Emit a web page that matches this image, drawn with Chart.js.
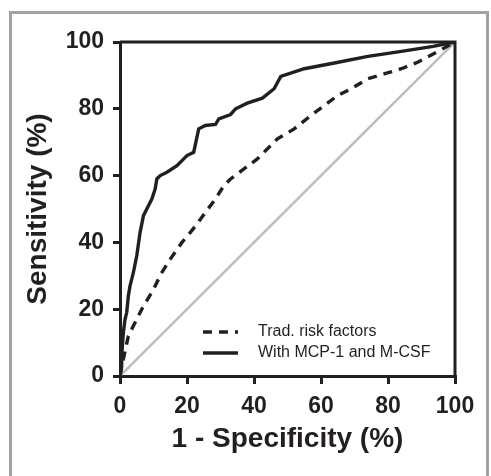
<!DOCTYPE html>
<html lang="en">
<head>
  <meta charset="UTF-8" />
  <title>ROC curves</title>
  <script src="https://cdn.jsdelivr.net/npm/chart.js"></script>
  <style>
    html, body {
      margin: 0;
      padding: 0;
      background: #fff;
      overflow: hidden;
    }
    .wrap {
      position: relative;
      width: 491px;
      height: 476px;
    }
    .frame {
      position: absolute;
      left: 9px;
      top: 11px;
      width: 474px;
      height: 490px;
      border: 3px solid #a3a3a3;
    }
    #roc {
      position: absolute;
      left: 0;
      top: 0;
    }
  </style>
</head>
<body>
  <div class="wrap">
    <div class="frame"></div>
    <canvas id="roc" width="491" height="476"></canvas>
  </div>

  <script>
    const xTicks = [0, 20, 40, 60, 80, 100];
    const yTicks = [0, 20, 40, 60, 80, 100];

    const seriesNames = ["Trad. risk factors", "With MCP-1 and M-CSF"];

    // traditional risk factors model
    const tradFpr = [0, 1, 2.5, 4.5, 6.5, 10, 12.5, 15, 18.5, 21, 23, 25.5, 28.5, 31, 33, 37, 41, 47, 52, 57, 61, 65, 69, 74, 79, 84, 89, 95.5, 100];
    const tradSens = [0, 5, 12, 16, 20, 26, 31, 35, 40, 43, 45.5, 49, 53, 57, 59, 62, 65, 71, 74, 78, 81, 84, 86, 89, 90.5, 92, 94, 97.5, 100];

    // model with MCP-1 and M-CSF
    const mcpFpr = [0, 0.5, 0.5, 1, 1.5, 2, 2.5, 3, 4, 5, 6, 7, 8, 9.5, 10.5, 11, 12, 14, 17, 20, 22, 23.5, 25.5, 28.5, 29.5, 33, 34.5, 38, 42.5, 46, 48, 55, 64, 74, 84, 93.5, 100];
    const mcpSens = [0, 3, 6, 13, 17, 19, 24, 27, 31, 36, 43, 48, 50, 53, 56, 59, 60, 61, 63, 66, 67, 74, 75, 75.3, 77, 78.3, 80, 81.7, 83.2, 86, 89.7, 92, 93.7, 95.7, 97.2, 98.7, 100];

    // reference (chance) line
    const chanceX = [0, 100];
    const chanceY = [0, 100];

    const ink = "#231f20";
    const fontFamily = "'Liberation Sans', Arial, Helvetica, sans-serif";

    function toPoints(xs, ys) {
      return xs.map((x, i) => ({ x: x, y: ys[i] }));
    }

    // top and right edges of the plot box
    const boxPlugin = {
      id: "box",
      afterDraw(chart) {
        const { ctx, chartArea: a } = chart;
        ctx.save();
        ctx.strokeStyle = ink;
        ctx.lineWidth = 3;
        ctx.beginPath();
        ctx.moveTo(a.left, a.top);
        ctx.lineTo(a.right, a.top);
        ctx.lineTo(a.right, a.bottom);
        ctx.stroke();
        ctx.restore();
      }
    };

    // legend inside the plot, lower right
    const innerLegend = {
      id: "innerLegend",
      afterDraw(chart) {
        const { ctx } = chart;
        const rows = [0, 1];
        ctx.save();
        rows.forEach((di, i) => {
          const ds = chart.data.datasets[di];
          const y = 332 + i * 21;
          ctx.strokeStyle = ds.borderColor;
          ctx.lineWidth = ds.borderWidth;
          ctx.setLineDash(ds.borderDash || []);
          ctx.beginPath();
          ctx.moveTo(203, y);
          ctx.lineTo(238, y);
          ctx.stroke();
          ctx.setLineDash([]);
          ctx.fillStyle = ink;
          ctx.font = "16px " + fontFamily;
          ctx.textBaseline = "middle";
          ctx.fillText(ds.label, 258, y);
        });
        ctx.restore();
      }
    };

    new Chart(document.getElementById("roc"), {
      type: "line",
      data: {
        datasets: [
          {
            label: seriesNames[0],
            data: toPoints(tradFpr, tradSens),
            borderColor: ink,
            borderWidth: 3.4,
            borderDash: [9, 7],
            pointRadius: 0,
            tension: 0,
            order: 1
          },
          {
            label: seriesNames[1],
            data: toPoints(mcpFpr, mcpSens),
            borderColor: ink,
            borderWidth: 3.4,
            pointRadius: 0,
            tension: 0,
            order: 0
          },
          {
            label: "chance",
            data: toPoints(chanceX, chanceY),
            borderColor: "#bdbdbd",
            borderWidth: 2.5,
            pointRadius: 0,
            tension: 0,
            order: 2
          }
        ]
      },
      options: {
        responsive: false,
        animation: false,
        layout: { padding: { top: 42, right: 36, left: 0, bottom: 0 } },
        plugins: {
          legend: { display: false },
          tooltip: { enabled: false }
        },
        scales: {
          x: {
            type: "linear",
            min: 0,
            max: 100,
            afterBuildTicks: s => { s.ticks = xTicks.map(v => ({ value: v })); },
            afterFit: s => { s.height = 100; },
            grid: { drawOnChartArea: false, color: ink, lineWidth: 3, tickLength: 8 },
            border: { color: ink, width: 3 },
            ticks: {
              color: ink,
              padding: 9,
              font: { family: fontFamily, size: 23, weight: "bold" }
            },
            title: {
              display: true,
              text: "1 - Specificity (%)",
              color: ink,
              padding: { top: 0, bottom: 20 },
              font: { family: fontFamily, size: 28, weight: "bold" }
            }
          },
          y: {
            type: "linear",
            min: 0,
            max: 100,
            afterBuildTicks: s => { s.ticks = yTicks.map(v => ({ value: v })); },
            afterFit: s => { s.width = 120; },
            grid: { drawOnChartArea: false, color: ink, lineWidth: 3, tickLength: 7 },
            border: { color: ink, width: 3 },
            ticks: {
              color: ink,
              padding: 9,
              font: { family: fontFamily, size: 23, weight: "bold" }
            },
            title: {
              display: true,
              text: "Sensitivity (%)",
              color: ink,
              padding: { top: 21, bottom: 0 },
              font: { family: fontFamily, size: 28, weight: "bold" }
            }
          }
        }
      },
      plugins: [boxPlugin, innerLegend]
    });
  </script>
</body>
</html>
